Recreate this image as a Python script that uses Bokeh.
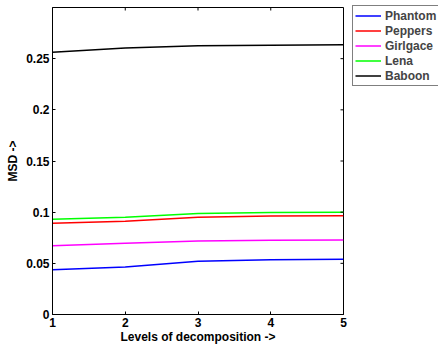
import math
from bokeh.plotting import figure
from bokeh.models import (FixedTicker, Range1d, Legend, LegendItem)
from bokeh.embed import file_html
from bokeh.resources import INLINE

levels = [1, 2, 3, 4, 5]
series_names = ["Phantom", "Peppers", "Girlgace", "Lena", "Baboon"]
phantom = [0.0438, 0.0464, 0.0520, 0.0536, 0.0540]
peppers = [0.0892, 0.0912, 0.0950, 0.0962, 0.0964]
girlgace = [0.0673, 0.0696, 0.0719, 0.0725, 0.0729]
lena = [0.0931, 0.0951, 0.0987, 0.0997, 0.1000]
baboon = [0.2562, 0.2604, 0.2627, 0.2632, 0.2637]
colors = ["#0000ff", "#ff0000", "#ff00ff", "#00ff00", "#000000"]
y_ticks = [0, 0.05, 0.1, 0.15, 0.2, 0.25]
y_tick_labels = ["0", "0.05", "0.1", "0.15", "0.2", "0.25"]
x_ticks = [1, 2, 3, 4, 5]
x_min, x_max = 1, 5
y_min, y_max = 0, 0.3

FONT = "Liberation Sans"
FRAME_W, FRAME_H = 291, 307

p = figure(frame_width=FRAME_W, frame_height=FRAME_H, output_backend="svg",
           toolbar_location=None,
           x_range=Range1d(x_min, x_max), y_range=Range1d(y_min, y_max),
           min_border_left=52, min_border_right=0, min_border_top=7,
           min_border_bottom=33)
p.xgrid.visible = False
p.ygrid.visible = False
p.outline_line_color = "black"
p.outline_line_width = 1

renderers = []
for name, vals, c in zip(series_names, [phantom, peppers, girlgace, lena, baboon], colors):
    r = p.line(levels, vals, line_color=c, line_width=1.5)
    renderers.append((name, r))

# mirrored inward ticks on the top and right edges
p.ray(x=x_ticks, y=[y_max] * len(x_ticks), length=3, length_units="screen",
      angle=-math.pi / 2, line_color="black", line_width=1)
p.ray(x=[x_max] * len(y_ticks), y=y_ticks, length=3, length_units="screen",
      angle=math.pi, line_color="black", line_width=1)

def style_axis(ax):
    ax.axis_line_color = "black"
    ax.major_tick_in = 3
    ax.major_tick_out = 0
    ax.minor_tick_in = 0
    ax.minor_tick_out = 0
    ax.major_tick_line_color = "black"
    ax.major_label_text_font = FONT
    ax.major_label_text_font_style = "bold"
    ax.major_label_text_font_size = "12px"
    ax.major_label_text_color = "black"
    ax.axis_label_text_font = FONT
    ax.axis_label_text_font_style = "bold"
    ax.axis_label_text_font_size = "12px"
    ax.axis_label_text_color = "black"

xa = p.xaxis[0]
ya = p.yaxis[0]
xa.ticker = FixedTicker(ticks=x_ticks)
ya.ticker = FixedTicker(ticks=y_ticks)
ya.major_label_overrides = {t: l for t, l in zip(y_ticks, y_tick_labels)}
xa.axis_label = "Levels of decomposition ->"
ya.axis_label = "MSD ->"
style_axis(xa)
style_axis(ya)
xa.major_label_standoff = 3
ya.major_label_standoff = 3
xa.axis_label_standoff = 0
ya.axis_label_standoff = 3

ROW_H, PAD = 15, 2
LEG_H = 5 * ROW_H + 2 * PAD
legend = Legend(items=[LegendItem(label=n, renderers=[r]) for n, r in renderers],
                location=(9, FRAME_H - LEG_H), orientation="vertical")
legend.label_text_font = FONT
legend.label_text_font_style = "bold"
legend.label_text_font_size = "12px"
legend.label_height = ROW_H
legend.glyph_height = ROW_H
legend.glyph_width = 26
legend.label_standoff = 4
legend.spacing = 0
legend.padding = PAD
legend.margin = 0
legend.border_line_color = "black"
legend.border_line_width = 1
legend.background_fill_alpha = 1
p.add_layout(legend, "right")

open("out.html", "w").write(file_html(p, INLINE))
